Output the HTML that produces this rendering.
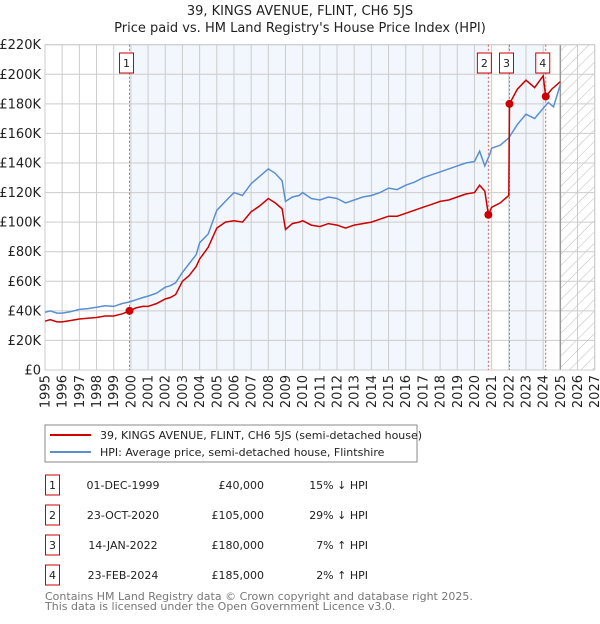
<!DOCTYPE html>
<html><head><meta charset="utf-8"><style>
body{margin:0;background:#fff;font-family:"DejaVu Sans","Liberation Sans",sans-serif;}
svg text{font-family:"DejaVu Sans","Liberation Sans",sans-serif;}
</style></head><body>
<svg id="chart" width="600" height="620" viewBox="0 0 600 620" xmlns="http://www.w3.org/2000/svg">
<text x="300" y="15" text-anchor="middle" font-size="13" fill="#222">39, KINGS AVENUE, FLINT, CH6 5JS</text>
<text x="300" y="32" text-anchor="middle" font-size="13" fill="#222">Price paid vs. HM Land Registry's House Price Index (HPI)</text>
<g id="plot"></g>
<g>
<rect x="45" y="425" width="372" height="37" fill="#fff" stroke="#888" stroke-width="1"/>
<line x1="50" y1="435" x2="91" y2="435" stroke="#cc0000" stroke-width="2"/>
<text x="100" y="439" font-size="11" fill="#222">39, KINGS AVENUE, FLINT, CH6 5JS (semi-detached house)</text>
<line x1="50" y1="452" x2="91" y2="452" stroke="#5b8fd0" stroke-width="2"/>
<text x="100" y="456" font-size="11" fill="#222">HPI: Average price, semi-detached house, Flintshire</text>
</g>
<g id="table" font-size="11" fill="#222"></g>
<text x="45" y="600" font-size="11" fill="#777">Contains HM Land Registry data © Crown copyright and database right 2025.</text>
<text x="45" y="610" font-size="11" fill="#777">This data is licensed under the Open Government Licence v3.0.</text>
</svg>
<script>
const hpiYears=[1995,1995.3,1995.7,1996,1996.5,1997,1997.5,1998,1998.5,1999,1999.5,1999.9,2000.3,2000.7,2001,2001.5,2002,2002.3,2002.6,2003,2003.4,2003.8,2004,2004.5,2005,2005.5,2006,2006.5,2007,2007.5,2008,2008.4,2008.8,2009,2009.4,2009.8,2010,2010.5,2011,2011.5,2012,2012.5,2013,2013.5,2014,2014.5,2015,2015.5,2016,2016.5,2017,2017.5,2018,2018.5,2019,2019.5,2020,2020.3,2020.6,2020.9,2021,2021.5,2022,2022.5,2023,2023.5,2024,2024.3,2024.6,2025];
const hpiValues=[39,40,38.5,38.5,39.5,41,41.5,42.5,43.5,43,45,46,47.5,49,50,52,56,57,59,66,72,78,86,92,108,114,120,118,126,131,136,133,128,114,117,118,120,116,115,117,116,113,115,117,118,120,123,122,125,127,130,132,134,136,138,140,141,148,138,146,150,152,157,166,173,170,177,181,178,193];
const propYears=[1995,1995.3,1995.7,1996,1996.5,1997,1997.5,1998,1998.5,1999,1999.5,1999.92,2000.3,2000.7,2001,2001.5,2002,2002.3,2002.6,2003,2003.4,2003.8,2004,2004.5,2005,2005.5,2006,2006.5,2007,2007.5,2008,2008.4,2008.8,2009,2009.4,2009.8,2010,2010.5,2011,2011.5,2012,2012.5,2013,2013.5,2014,2014.5,2015,2015.5,2016,2016.5,2017,2017.5,2018,2018.5,2019,2019.5,2020,2020.3,2020.6,2020.81,2021,2021.5,2022.0,2022.04,2022.5,2023,2023.5,2024,2024.15,2024.5,2025];
const propValues=[33,34,32.5,32.5,33.5,34.5,35,35.5,36.5,36.5,38,40,42,43,43,45,48,49,51,60,64,70,75,83,96,100,101,100,107,111,116,113,109,95,99,100,101,98,97,99,98,96,98,99,100,102,104,104,106,108,110,112,114,115,117,119,120,125,121,105,110,113,118,180,190,196,191,199,185,190,195];
const saleYears=[1999.92,2020.81,2022.04,2024.15];
const saleValues=[40,105,180,185];
const saleLabels=["1","2","3","4"];
const saleDates=["01-DEC-1999","23-OCT-2020","14-JAN-2022","23-FEB-2024"];
const salePrices=["£40,000","£105,000","£180,000","£185,000"];
const saleHpi=["15% ↓ HPI","29% ↓ HPI","7% ↑ HPI","2% ↑ HPI"];
const yTicks=[0,20,40,60,80,100,120,140,160,180,200,220];
const xTicks=[1995,1996,1997,1998,1999,2000,2001,2002,2003,2004,2005,2006,2007,2008,2009,2010,2011,2012,2013,2014,2015,2016,2017,2018,2019,2020,2021,2022,2023,2024,2025,2026,2027];

const NS="http://www.w3.org/2000/svg";
const L=45,R=594.7,T=44.7,B=370;
const X=y=>L+(y-1995)/(2027-1995)*(R-L);
const Y=v=>B-v/220*(B-T);
const plot=document.getElementById('plot');
function mk(tag,attrs,parent){const e=document.createElementNS(NS,tag);for(const k in attrs)e.setAttribute(k,attrs[k]);(parent||plot).appendChild(e);return e;}

let sh=mk('rect',{x:X(saleYears[0]),y:T,width:X(saleYears[1])-X(saleYears[0]),height:B-T,fill:'#eef3fc',opacity:0.75});


sh=mk('rect',{x:X(saleYears[2]),y:T,width:X(saleYears[3])-X(saleYears[2]),height:B-T,fill:'#eef3fc',opacity:0.75});


const defs=mk('defs',{});
const pat=mk('pattern',{id:'hatch',width:8,height:8,patternUnits:'userSpaceOnUse',patternTransform:'rotate(45)'},defs);
mk('line',{x1:0,y1:0,x2:0,y2:8,stroke:'#bbb','stroke-width':1},pat);
const hz=mk('rect',{x:X(2025),y:T,width:R-X(2025),height:B-T,fill:'url(#hatch)'});


yTicks.forEach(v=>{
  mk('line',{x1:L,x2:R,y1:Y(v),y2:Y(v),stroke:'#ccc','stroke-width':1});
  const t=mk('text',{x:L-4,y:Y(v)+4.5,'text-anchor':'end','font-size':13,fill:'#222'});
  t.textContent=v===0?'£0':'£'+v+'K';
  
  
});
xTicks.forEach(yr=>{
  mk('line',{x1:X(yr),x2:X(yr),y1:T,y2:B,stroke:'#ccc','stroke-width':1});
  const t=mk('text',{x:0,y:0,'text-anchor':'end','font-size':13,fill:'#222',transform:`translate(${X(yr)+4.5},${B+5}) rotate(-90)`});
  t.textContent=yr;
  
  
});
mk('line',{x1:X(2025),x2:X(2025),y1:T,y2:B,stroke:'#999','stroke-width':1.5});
mk('rect',{x:L,y:T,width:R-L,height:B-T,fill:'none',stroke:'#ccc'});
saleYears.forEach((yr,i)=>{
  const l=mk('line',{x1:X(yr),x2:X(yr),y1:T,y2:B,stroke:'#e06060','stroke-width':1,'stroke-dasharray':'2,2'});
  
  
  const g=mk('g',{});
  
  
  const cx=[X(yr)-3,X(yr)-4,X(yr)-3,X(yr)-3][i];
  mk('rect',{x:cx-7,y:53,width:14,height:20,fill:'#fff',stroke:'#c00','stroke-width':1},g);
  const t=mk('text',{x:cx,y:67,'text-anchor':'middle','font-size':11,fill:'#222'},g);
  t.textContent=saleLabels[i];
});
function path(xs,vs){return xs.map((x,i)=>(i?'L':'M')+X(x).toFixed(1)+','+Y(vs[i]).toFixed(1)).join('');}
const hp=mk('path',{d:path(hpiYears,hpiValues),fill:'none',stroke:'#5b8fd0','stroke-width':1.5});


const pp=mk('path',{d:path(propYears,propValues),fill:'none',stroke:'#cc0000','stroke-width':1.5});


saleYears.forEach((yr,i)=>{
  const c=mk('circle',{cx:X(yr),cy:Y(saleValues[i]),r:4,fill:'#cc0000'});
  
  
});
const tb=document.getElementById('table');
saleLabels.forEach((lb,i)=>{
  const y=483+i*30;
  const g=mk('g',{},tb);
  
  
  mk('rect',{x:45.5,y:y-8,width:14,height:20,fill:'#fff',stroke:'#c00','stroke-width':1},g);
  let t=mk('text',{x:52.5,y:y+6,'text-anchor':'middle',fill:'#222','font-size':11},g);t.textContent=lb;
  t=mk('text',{x:123,y:y+6,'text-anchor':'middle',fill:'#222','font-size':11},g);t.textContent=saleDates[i];
  t=mk('text',{x:264,y:y+6,'text-anchor':'end',fill:'#222','font-size':11},g);t.textContent=salePrices[i];
  t=mk('text',{x:368,y:y+6,'text-anchor':'end',fill:'#222','font-size':11},g);t.textContent=saleHpi[i];
});
</script>
</body></html>
